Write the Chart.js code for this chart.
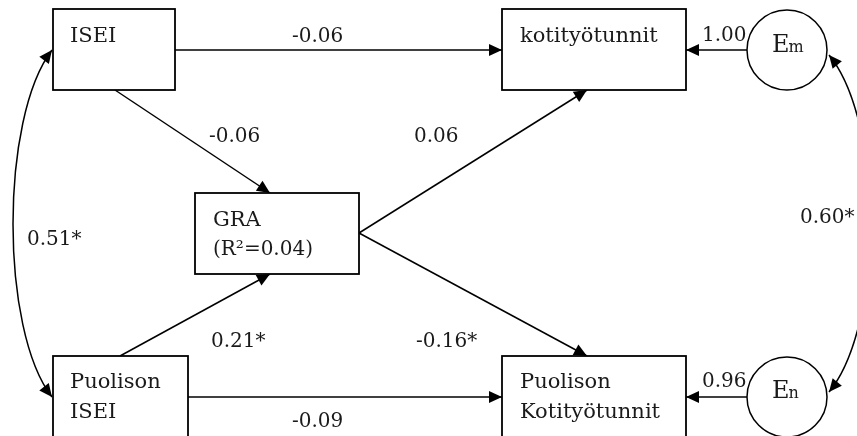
<!DOCTYPE html>
<html>
<head>
<meta charset="utf-8">
<script src="https://cdn.jsdelivr.net/npm/chart.js@4.4.1/dist/chart.umd.min.js"></script>
<style>
  html, body { margin: 0; padding: 0; background: #fff; }
  #wrap { width: 857px; height: 436px; }
</style>
</head>
<body>
<div id="wrap"><canvas id="pathChart" width="857" height="436"></canvas></div>
<script>
// model values
const nodeNames = ["ISEI", "kotityötunnit", "GRA", "Puolison ISEI", "Puolison Kotityötunnit", "Em", "En"];
const nodeLines = [["ISEI"], ["kotityötunnit"], ["GRA", "(R²=0.04)"], ["Puolison", "ISEI"], ["Puolison", "Kotityötunnit"], ["E", "m"], ["E", "n"]];
const pathFrom = ["ISEI", "ISEI", "GRA", "Puolison ISEI", "GRA", "Puolison ISEI", "Em", "En"];
const pathTo = ["kotityötunnit", "GRA", "kotityötunnit", "GRA", "Puolison Kotityötunnit", "Puolison Kotityötunnit", "kotityötunnit", "Puolison Kotityötunnit"];
const pathCoef = ["-0.06", "-0.06", "0.06", "0.21*", "-0.16*", "-0.09", "1.00", "0.96"];
const covFrom = ["ISEI", "Em"];
const covTo = ["Puolison ISEI", "En"];
const covCoef = ["0.51*", "0.60*"];

// layout (chart units, x 0..857, y 0..436 top-down)
const boxes = {
    "ISEI": { x: 53, y: 9, w: 122, h: 81, tx: 70, ty: [42] },
    "kotityötunnit": { x: 502, y: 9, w: 184, h: 81, tx: 520, ty: [42] },
    "GRA": { x: 195, y: 193, w: 164, h: 81, tx: 213, ty: [226, 255] },
    "Puolison ISEI": { x: 53, y: 356, w: 135, h: 100, tx: 70, ty: [388, 418] },
    "Puolison Kotityötunnit": { x: 502, y: 356, w: 184, h: 100, tx: 520, ty: [388, 418] }
};
const circles = {
    "Em": { x: 787, y: 50, tx: 772, ty: 52 },
    "En": { x: 787, y: 397, tx: 772, ty: 398 }
};
const pathAnchors = [
    [[175, 50], [502, 50]],
    [[115, 90], [270, 193]],
    [[359, 233], [587, 90]],
    [[120, 356], [270, 274]],
    [[359, 233], [587, 356]],
    [[188, 397], [502, 397]],
    [[747, 50], [686, 50]],
    [[747, 397], [686, 397]]
];
const pathLabelPos = [[292, 42], [209, 142], [414, 142], [211, 347], [416, 347], [292, 427], [702, 41], [702, 387]];
const covCurves = [
    [[52, 50], [0, 118], [0, 330], [52, 397]],
    [[829, 55], [884, 122], [884, 325], [829, 392]]
];
const covLabelPos = [[27, 245], [800, 223]];

const NODE_FONT = "21px 'DejaVu Serif'";
const COEF_FONT = "20px 'DejaVu Serif'";
const E_FONT = "24px 'DejaVu Serif'";
const SUB_FONT = "16px 'DejaVu Serif'";
const INK = "#000";
const TEXT = "#1a1a1a";

// Draw a filled arrowhead at (x, y) pointing along (dx, dy)
function arrowHead(ctx, x, y, dx, dy) {
    const len = Math.hypot(dx, dy);
    const ux = dx / len, uy = dy / len;
    const L = 13, W = 6;
    ctx.beginPath();
    ctx.moveTo(x, y);
    ctx.lineTo(x - ux * L - uy * W, y - uy * L + ux * W);
    ctx.lineTo(x - ux * L + uy * W, y - uy * L - ux * W);
    ctx.closePath();
    ctx.fillStyle = INK;
    ctx.fill();
}

const diagramPlugin = {
    id: "diagram",
    beforeDatasetsDraw(chart) {
        const ctx = chart.ctx;
        const sx = chart.scales.x, sy = chart.scales.y;
        const px = v => sx.getPixelForValue(v);
        const py = v => sy.getPixelForValue(v);

        // covariance curves
        covCurves.forEach(c => {
            ctx.save();
            ctx.strokeStyle = INK;
            ctx.lineWidth = 1.5;
            ctx.beginPath();
            ctx.moveTo(px(c[0][0]), py(c[0][1]));
            ctx.bezierCurveTo(px(c[1][0]), py(c[1][1]), px(c[2][0]), py(c[2][1]), px(c[3][0]), py(c[3][1]));
            ctx.stroke();
            arrowHead(ctx, px(c[0][0]), py(c[0][1]), px(c[0][0]) - px(c[1][0]), py(c[0][1]) - py(c[1][1]));
            arrowHead(ctx, px(c[3][0]), py(c[3][1]), px(c[3][0]) - px(c[2][0]), py(c[3][1]) - py(c[2][1]));
            ctx.restore();
        });
    },
    afterDatasetsDraw(chart) {
        const ctx = chart.ctx;
        const sx = chart.scales.x, sy = chart.scales.y;
        const px = v => sx.getPixelForValue(v);
        const py = v => sy.getPixelForValue(v);

        // arrowheads on the path lines
        pathFrom.forEach((f, i) => {
            const pts = chart.getDatasetMeta(i).data;
            const a = pts[0], b = pts[1];
            arrowHead(ctx, b.x, b.y, b.x - a.x, b.y - a.y);
        });

        // observed variable boxes
        ctx.save();
        ctx.textBaseline = "alphabetic";
        ctx.textAlign = "left";
        Object.keys(boxes).forEach(name => {
            const bx = boxes[name];
            const x0 = px(bx.x), y0 = py(bx.y), x1 = px(bx.x + bx.w), y1 = py(bx.y + bx.h);
            ctx.fillStyle = "#fff";
            ctx.fillRect(x0, y0, x1 - x0, y1 - y0);
            ctx.strokeStyle = INK;
            ctx.lineWidth = 1.8;
            ctx.strokeRect(x0, y0, x1 - x0, y1 - y0);
            ctx.fillStyle = TEXT;
            const lines = nodeLines[nodeNames.indexOf(name)];
            lines.forEach((t, k) => {
                // the R² line is set a little smaller
                ctx.font = t.startsWith("(") ? COEF_FONT : NODE_FONT;
                ctx.fillText(t, px(bx.tx), py(bx.ty[k]));
            });
        });

        // error terms: E with subscript
        Object.keys(circles).forEach(name => {
            const c = circles[name];
            const lines = nodeLines[nodeNames.indexOf(name)];
            ctx.fillStyle = TEXT;
            ctx.font = E_FONT;
            ctx.fillText(lines[0], px(c.tx), py(c.ty));
            const w = ctx.measureText(lines[0]).width;
            ctx.font = SUB_FONT;
            ctx.fillText(lines[1], px(c.tx) + w - 1, py(c.ty));
        });

        // coefficients
        ctx.font = COEF_FONT;
        ctx.fillStyle = TEXT;
        pathCoef.forEach((t, i) => ctx.fillText(t, px(pathLabelPos[i][0]), py(pathLabelPos[i][1])));
        covCoef.forEach((t, i) => ctx.fillText(t, px(covLabelPos[i][0]), py(covLabelPos[i][1])));
        ctx.restore();
    }
};

const datasets = pathFrom.map((f, i) => ({
    type: "line",
    label: f + " → " + pathTo[i],
    data: pathAnchors[i].map(p => ({ x: p[0], y: p[1] })),
    borderColor: INK,
    borderWidth: 1.5,
    pointRadius: 0,
    fill: false,
    tension: 0
}));

datasets.push({
    type: "scatter",
    label: "error terms",
    data: Object.keys(circles).map(k => ({ x: circles[k].x, y: circles[k].y })),
    pointStyle: "circle",
    pointRadius: 40,
    pointHoverRadius: 40,
    backgroundColor: "#fff",
    borderColor: INK,
    borderWidth: 1.5
});

new Chart(document.getElementById("pathChart"), {
    type: "scatter",
    data: { datasets: datasets },
    options: {
        responsive: false,
        animation: false,
        devicePixelRatio: 1,
        layout: { padding: 0, autoPadding: false },
        events: [],
        clip: false,
        scales: {
            x: { type: "linear", min: 0, max: 857, display: false },
            y: { type: "linear", min: 0, max: 436, reverse: true, display: false }
        },
        plugins: {
            legend: { display: false },
            tooltip: { enabled: false }
        }
    },
    plugins: [diagramPlugin]
});
</script>
</body>
</html>
